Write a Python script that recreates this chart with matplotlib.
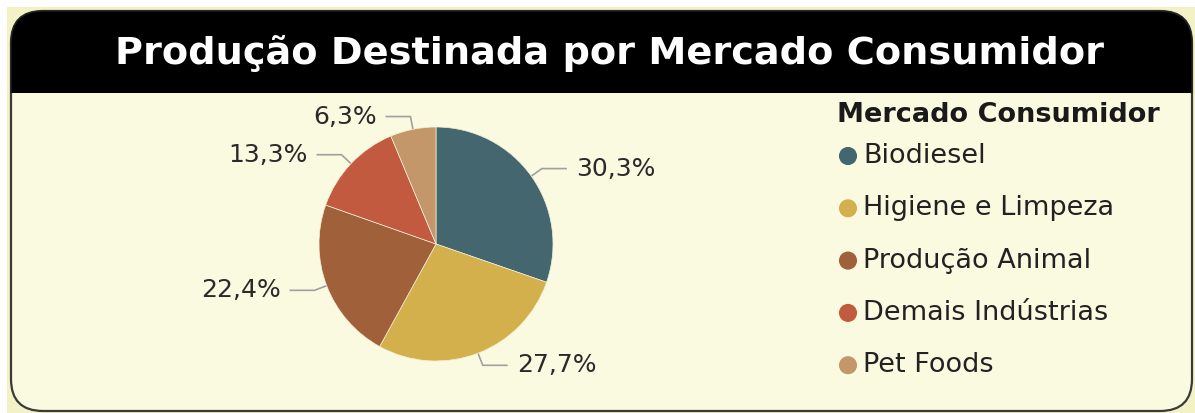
import numpy as np
import matplotlib
matplotlib.use("Agg")
import matplotlib.pyplot as plt
from matplotlib.patches import FancyBboxPatch, Rectangle

# ---- data ----
title = "Produção Destinada por Mercado Consumidor"
legend_title = "Mercado Consumidor"
categories = ["Biodiesel", "Higiene e Limpeza", "Produção Animal",
              "Demais Indústrias", "Pet Foods"]
shares = [30.3, 27.7, 22.4, 13.3, 6.3]
colors = ["#43666F", "#D3B04C", "#A0603A", "#C25A40", "#C4976A"]

plt.rcParams['font.family'] = ['DejaVu Sans']

W, H = 1195, 413
fig = plt.figure(figsize=(W / 100, H / 100), dpi=100, facecolor="white")
ax = fig.add_axes([0, 0, 1, 1])

cream = "#FAFAE1"

# outer background
ax.add_patch(Rectangle((7, 0), W - 7, H - 7, facecolor="#F2F2C6",
                       edgecolor="none", zorder=0))
# card body
ax.add_patch(FancyBboxPatch((11, H - 411), 1181, 400,
                            boxstyle="round,pad=0,rounding_size=32",
                            facecolor=cream, edgecolor="#3a3a3a",
                            linewidth=1.6, zorder=1))
# header (clipped to the top band)
header = FancyBboxPatch((11, H - 150), 1181, 139,
                        boxstyle="round,pad=0,rounding_size=32",
                        facecolor="black", edgecolor="#222222",
                        linewidth=1.0, zorder=2)
ax.add_patch(header)
clip = Rectangle((0, H - 93), W, 93, transform=ax.transData)
header.set_clip_path(clip)

ax.text(610, H - 53, title, ha="center", va="center", color="white",
        fontsize=27.5, fontweight="bold", zorder=5)

# pie
cx, cy, R = 436, H - 244, 117
wedges, _ = ax.pie(shares, colors=colors, startangle=90, counterclock=False,
                   center=(cx, cy), radius=R,
                   wedgeprops=dict(edgecolor="#F4EFD8", linewidth=0.5))
for w in wedges:
    w.set_zorder(6)

for w, v in zip(wedges, shares):
    mid = np.deg2rad((w.theta1 + w.theta2) / 2)
    ex, ey = cx + R * np.cos(mid), cy + R * np.sin(mid)
    bx, by = cx + 130 * np.cos(mid), cy + 130 * np.sin(mid)
    side = 1 if np.cos(mid) >= 0 else -1
    hx = bx + side * 25
    ax.plot([ex, bx, hx], [ey, by, by], color="#a0a0a0", lw=1.2, zorder=5,
            solid_capstyle="butt")
    label = f"{v:.1f}".replace(".", ",") + "%"
    ax.text(hx + side * 9, by, label, ha="left" if side > 0 else "right",
            va="center", fontsize=18, color="#2a2a2a", zorder=7)

# legend
ax.text(837, H - 115, legend_title, ha="left", va="center", fontsize=19.5,
        fontweight="bold", color="#1a1a1a", zorder=7)
for i, (c, name) in enumerate(zip(colors, categories)):
    yy = H - (156 + 52.3 * i)
    ax.scatter([848], [yy], s=170, color=c, zorder=7, edgecolors="none")
    ax.text(863, yy, name, ha="left", va="center", fontsize=19.5,
            color="#222222", zorder=7)

ax.set_xlim(0, W)
ax.set_ylim(0, H)
ax.set_aspect("auto")
ax.axis("off")

fig.savefig("out.png", dpi=100, facecolor="white")
